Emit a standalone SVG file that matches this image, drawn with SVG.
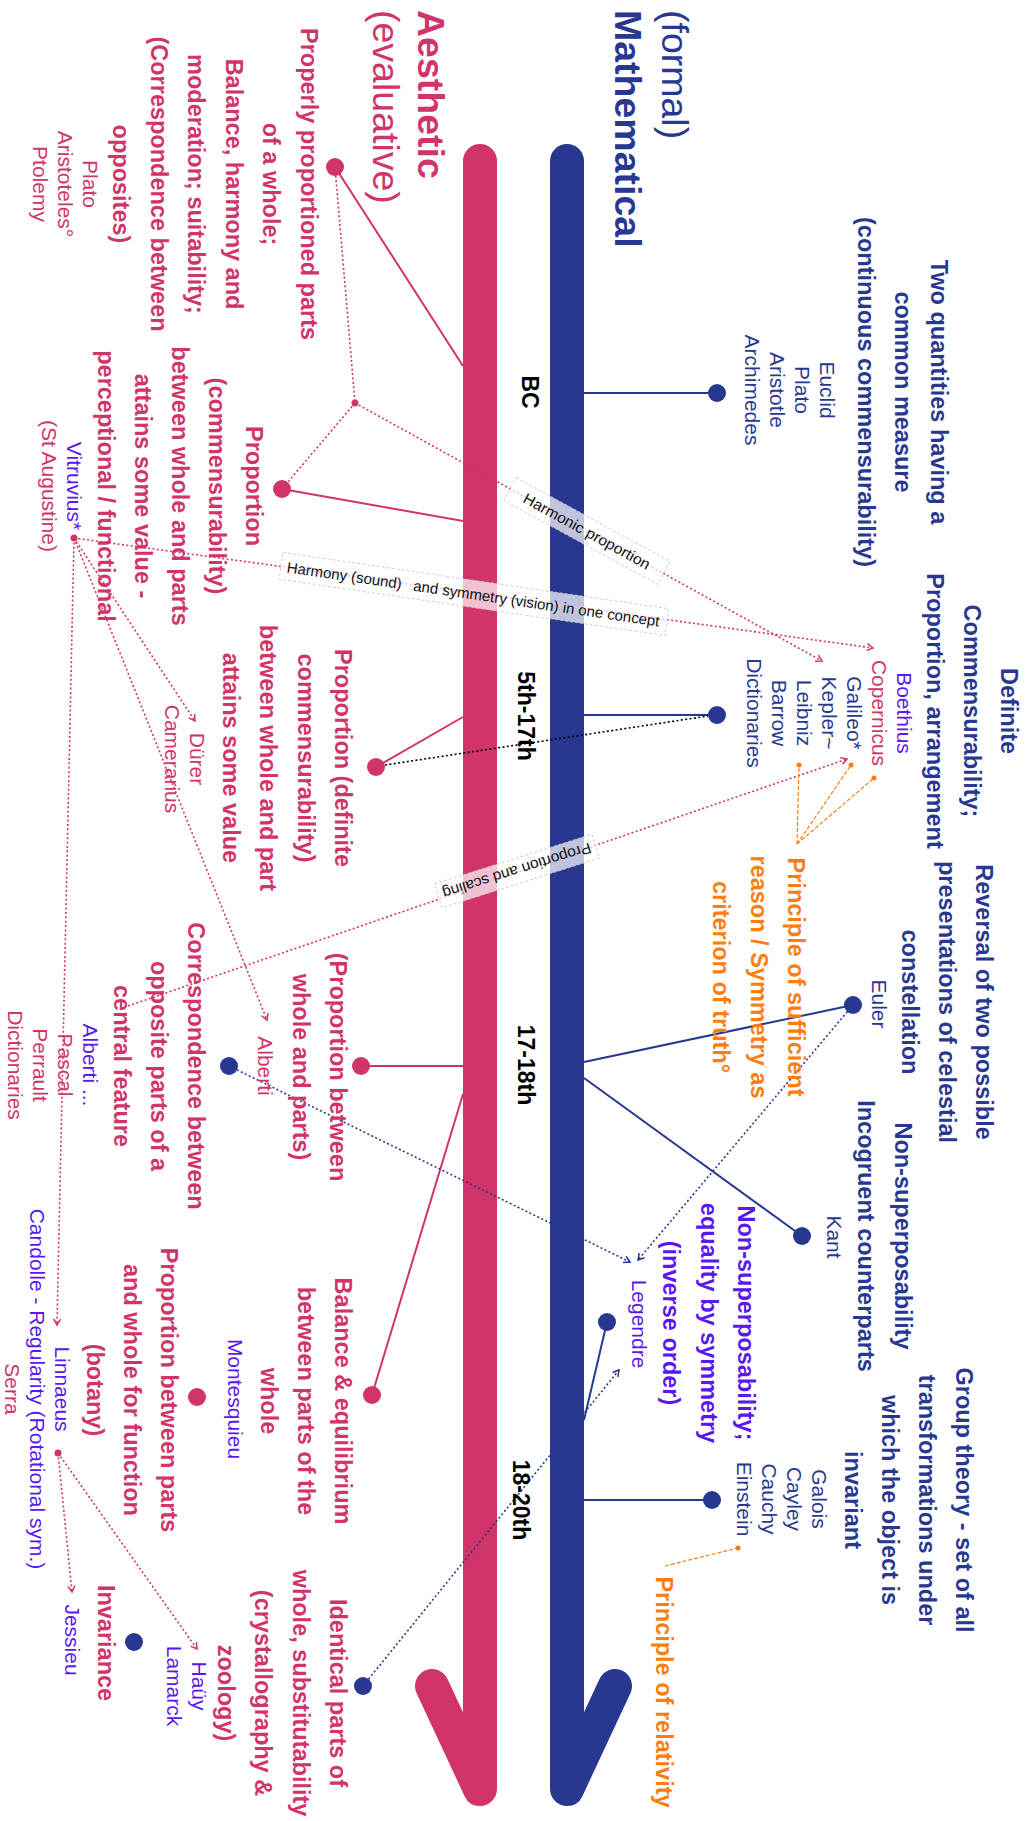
<svg xmlns="http://www.w3.org/2000/svg" width="1033" height="1821" viewBox="0 0 1033 1821">
<defs>
<style>
.t{font-family:"Liberation Sans",Arial,sans-serif}
.b{font-weight:bold;font-size:23.5px}
.n{font-size:21px}
.ttl{font-size:37.5px}
.era{font-weight:bold;font-size:23px;fill:#000}
.pk{fill:#d13469}.bl{fill:#283891}.pu{fill:#5a17f0}.or{fill:#ff7d0f}
.sp{stroke:#d13469;stroke-width:2;fill:none}
.sb{stroke:#283891;stroke-width:2;fill:none}
.dp{stroke:#d13469;stroke-width:1.6;fill:none;stroke-dasharray:2 2.4}
.db{stroke:#283891;stroke-width:1.6;fill:none;stroke-dasharray:2 2.4}
.dk{stroke:#000;stroke-width:1.6;fill:none;stroke-dasharray:2 2.4}
.do{stroke:#ff7d0f;stroke-width:1.2;fill:none;stroke-dasharray:4 2}
.lb rect{fill:#fff;fill-opacity:.7;stroke:#c8c8c8;stroke-width:.8;stroke-dasharray:3 2}
.lb text{font-family:"Liberation Sans",Arial,sans-serif;font-size:15px;fill:#111}
.bar{fill:none;stroke-width:34;stroke-linecap:round;stroke-linejoin:round}
</style>
<marker id="ap" viewBox="0 0 10 10" refX="8" refY="5" markerWidth="10" markerHeight="10" markerUnits="userSpaceOnUse" orient="auto"><path d="M2,1.5 L8,5 L2,8.5" fill="none" stroke="#d13469" stroke-width="1.5"/></marker>
<marker id="ab" viewBox="0 0 10 10" refX="8" refY="5" markerWidth="10" markerHeight="10" markerUnits="userSpaceOnUse" orient="auto"><path d="M2,1.5 L8,5 L2,8.5" fill="none" stroke="#283891" stroke-width="1.5"/></marker>
</defs>
<rect width="1033" height="1821" fill="#fff"/>

<g id="timeline-bars">
<path class="bar" stroke="#d13469" d="M480,161 L480,1789 L432,1686"/>
<path class="bar" stroke="#283891" d="M567,161 L567,1789 L615,1686"/>
</g>

<g id="connectors">
<line class="sp" x1="463" y1="366" x2="335" y2="167"/>
<line class="sp" x1="463" y1="521" x2="282" y2="489"/>
<line class="sp" x1="463" y1="717" x2="376" y2="767"/>
<line class="sp" x1="463" y1="1066" x2="361" y2="1066"/>
<line class="sp" x1="463" y1="1094" x2="372" y2="1395"/>
<line class="sb" x1="584" y1="393" x2="717" y2="393"/>
<line class="sb" x1="584" y1="715" x2="717" y2="715"/>
<line class="sb" x1="584" y1="1062" x2="853" y2="1005"/>
<line class="sb" x1="584" y1="1078" x2="802" y2="1236"/>
<line class="sb" x1="584" y1="1420" x2="607" y2="1322"/>
<line class="sb" x1="584" y1="1500" x2="712" y2="1500"/>

<line class="dp" x1="335" y1="167" x2="355" y2="403"/>
<line class="dp" x1="355" y1="403" x2="282" y2="489"/>
<line class="dp" x1="355" y1="403" x2="822" y2="661" marker-end="url(#ap)"/>
<line class="dp" x1="74" y1="538" x2="873" y2="648" marker-end="url(#ap)"/>
<line class="dp" x1="74" y1="538" x2="195" y2="721" marker-end="url(#ap)"/>
<line class="dp" x1="74" y1="538" x2="267" y2="1020" marker-end="url(#ap)"/>
<line class="dp" x1="74" y1="538" x2="57" y2="1325" marker-end="url(#ap)"/>
<line class="dp" x1="128" y1="1006" x2="847" y2="759" marker-end="url(#ap)"/>
<line class="dp" x1="58" y1="1453" x2="72" y2="1592" marker-end="url(#ap)"/>
<line class="dp" x1="58" y1="1453" x2="197" y2="1649" marker-end="url(#ap)"/>
<line class="dk" x1="385" y1="765" x2="708" y2="716"/>
<line class="db" x1="229" y1="1066" x2="630" y2="1262" marker-end="url(#ab)"/>
<line class="db" x1="853" y1="1005" x2="638" y2="1260" marker-end="url(#ab)"/>
<line class="db" x1="363" y1="1686" x2="619" y2="1370" marker-end="url(#ab)"/>
<line class="do" x1="797" y1="844" x2="799" y2="765"/>
<line class="do" x1="797" y1="844" x2="851" y2="765"/>
<line class="do" x1="797" y1="844" x2="874" y2="778"/>
<line class="do" x1="665" y1="1566" x2="738" y2="1548"/>
<g fill="#ff7d0f">
<circle cx="799" cy="765" r="2.5"/><circle cx="851" cy="765" r="2.5"/><circle cx="874" cy="778" r="2.5"/><circle cx="738" cy="1548" r="2.5"/>
</g>
</g>

<g id="edge-labels">
<g class="lb" id="label-harmonic" transform="translate(587,531) rotate(28.6)">
<rect x="-87.5" y="-13" width="175" height="26"/>
<text x="0" y="5.5" text-anchor="middle" textLength="142" lengthAdjust="spacingAndGlyphs">Harmonic proportion</text>
</g>
<g class="lb" id="label-harmony" transform="translate(474,594) rotate(8.3)">
<rect x="-195" y="-13.5" width="390" height="27"/>
<text x="-189" y="5.5">Harmony (sound)</text>
<text x="-61" y="5.5">and symmetry (vision) in one concept</text>
</g>
<g class="lb" id="label-scaling" transform="translate(517,871) rotate(162.5)">
<rect x="-82.5" y="-12.5" width="165" height="25"/>
<text x="0" y="5.5" text-anchor="middle" textLength="155" lengthAdjust="spacingAndGlyphs">Proportion and scaling</text>
</g>
</g>

<g id="titles">
<text class="t ttl pk" font-weight="bold" transform="translate(418,10) rotate(90)">Aesthetic</text>
<text class="t ttl pk" transform="translate(373,10) rotate(90)">(evaluative)</text>
<text class="t ttl bl" transform="translate(662,10) rotate(90)">(formal)</text>
<text class="t ttl bl" font-weight="bold" transform="translate(615,10) rotate(90)">Mathematical</text>
</g>

<g id="eras" text-anchor="middle">
<text class="t era" transform="translate(522,392) rotate(90)">BC</text>
<text class="t era" transform="translate(518,716) rotate(90)">5th-17th</text>
<text class="t era" transform="translate(518,1065) rotate(90)">17-18th</text>
<text class="t era" transform="translate(513,1500) rotate(90)">18-20th</text>
</g>

<g id="node-a1" text-anchor="middle">
<circle class="pk" cx="335" cy="167" r="9"/>
<text class="t b pk" transform="translate(301,184) rotate(90)"><tspan x="0">Properly proportioned parts</tspan><tspan x="0" dy="37.6">of a whole;</tspan><tspan x="0" dy="37.6">Balance, harmony and</tspan><tspan x="0" dy="37.6">moderation; suitability;</tspan><tspan x="0" dy="37.6">(Correspondence between</tspan><tspan x="0" dy="37.6">opposites)</tspan></text>
<text class="t n pk" transform="translate(83,184) rotate(90)"><tspan x="0">Plato</tspan><tspan x="0" dy="25">Aristoteles°</tspan><tspan x="0" dy="25">Ptolemy</tspan></text>
</g>
<g id="node-junction"><circle class="pk" cx="355" cy="403" r="3.5"/></g>

<g id="node-a2" text-anchor="middle">
<circle class="pk" cx="282" cy="489" r="9"/>
<text class="t b pk" transform="translate(246,486) rotate(90)"><tspan x="0">Proportion</tspan><tspan x="0" dy="37">(commensurability)</tspan><tspan x="0" dy="37">between whole and parts</tspan><tspan x="0" dy="37">attains some value -</tspan><tspan x="0" dy="37">perceptional / functional</tspan></text>
</g>
<g id="node-vitruvius" text-anchor="middle">
<circle class="pk" cx="74" cy="538" r="3.5"/>
<text class="t n" transform="translate(67,486) rotate(90)"><tspan x="0" class="pu">Vitruvius*</tspan><tspan x="0" dy="25.5" class="pk">(St Augustine)</tspan></text>
</g>
<g id="node-durer" text-anchor="middle">
<text class="t n pk" transform="translate(190,759) rotate(90)"><tspan x="0">Dürer</tspan><tspan x="0" dy="25">Camerarius</tspan></text>
</g>
<g id="node-a3" text-anchor="middle">
<circle class="pk" cx="376" cy="767" r="9"/>
<text class="t b pk" transform="translate(335,758) rotate(90)"><tspan x="0">Proportion (definite</tspan><tspan x="0" dy="37.5">commensurability)</tspan><tspan x="0" dy="37.5">between whole and part</tspan><tspan x="0" dy="37.5">attains some value</tspan></text>
</g>
<g id="node-a4" text-anchor="middle">
<circle class="pk" cx="361" cy="1066" r="9"/>
<text class="t b pk" transform="translate(330,1067) rotate(90)"><tspan x="0">(Proportion between</tspan><tspan x="0" dy="37.5">whole and parts)</tspan></text>
<text class="t n pk" transform="translate(258,1066) rotate(90)">Alberti</text>
</g>
<g id="node-a5" text-anchor="middle">
<circle class="bl" cx="229" cy="1066" r="9"/>
<text class="t b pk" transform="translate(188,1066) rotate(90)"><tspan x="0">Correspondence between</tspan><tspan x="0" dy="37">opposite parts of a</tspan><tspan x="0" dy="37">central feature</tspan></text>
<text class="t n" transform="translate(83,1065) rotate(90)"><tspan x="0" class="pu">Alberti ...</tspan><tspan x="0" dy="25" class="pk">Pascal</tspan><tspan x="0" dy="25" class="pk">Perrault</tspan><tspan x="0" dy="25" class="pk">Dictionaries</tspan></text>
</g>
<g id="node-a6" text-anchor="middle">
<circle class="pk" cx="372" cy="1395" r="9"/>
<text class="t b pk" transform="translate(335,1401) rotate(90)"><tspan x="0">Balance &amp; equilibrium</tspan><tspan x="0" dy="37">between parts of the</tspan><tspan x="0" dy="37">whole</tspan></text>
<text class="t n pu" transform="translate(228,1399) rotate(90)">Montesquieu</text>
</g>
<g id="node-a7" text-anchor="middle">
<circle class="pk" cx="197" cy="1397" r="9"/>
<text class="t b pk" transform="translate(161,1390) rotate(90)"><tspan x="0">Proportion between parts</tspan><tspan x="0" dy="37">and whole for function</tspan><tspan x="0" dy="37">(botany)</tspan></text>
<text class="t n" transform="translate(55,1389) rotate(90)"><tspan x="0" class="pu">Linnaeus</tspan><tspan x="0" dy="25" class="pu">Candolle - Regularity (Rotational sym.)</tspan><tspan x="0" dy="25" class="pk">Serra</tspan></text>
<circle class="pk" cx="58" cy="1453" r="3.5"/>
</g>
<g id="node-a8" text-anchor="middle">
<circle class="bl" cx="134" cy="1642" r="9"/>
<text class="t b pk" transform="translate(98,1643) rotate(90)">Invariance</text>
<text class="t n pu" transform="translate(65,1640) rotate(90)">Jessieu</text>
<text class="t n pu" transform="translate(192,1686) rotate(90)"><tspan x="0">Haüy</tspan><tspan x="0" dy="25">Lamarck</tspan></text>
</g>
<g id="node-a9" text-anchor="middle">
<circle class="bl" cx="363" cy="1686" r="9"/>
<text class="t b pk" transform="translate(330,1693) rotate(90)"><tspan x="0">Identical parts of</tspan><tspan x="0" dy="37.5">whole, substitutability</tspan><tspan x="0" dy="37.5">(crystallography &amp;</tspan><tspan x="0" dy="37.5">zoology)</tspan></text>
</g>

<g id="node-m1" text-anchor="middle">
<circle class="bl" cx="717" cy="393" r="9"/>
<text class="t b bl" transform="translate(931,392) rotate(90)"><tspan x="0">Two quantities having a</tspan><tspan x="0" dy="36.5">common measure</tspan><tspan x="0" dy="36.5">(continuous commensurability)</tspan></text>
<text class="t n bl" transform="translate(820,390) rotate(90)"><tspan x="0">Euclid</tspan><tspan x="0" dy="25">Plato</tspan><tspan x="0" dy="25">Aristotle</tspan><tspan x="0" dy="25">Archimedes</tspan></text>
</g>
<g id="node-m2" text-anchor="middle">
<circle class="bl" cx="717" cy="715" r="9"/>
<text class="t b bl" transform="translate(1001,711) rotate(90)"><tspan x="0">Definite</tspan><tspan x="0" dy="37">Commensurability;</tspan><tspan x="0" dy="37">Proportion, arrangement</tspan></text>
<text class="t n bl" transform="translate(897,713) rotate(90)"><tspan x="0" class="pu">Boethius</tspan><tspan x="0" dy="25" class="pk">Copernicus</tspan><tspan x="0" dy="25">Galileo*</tspan><tspan x="0" dy="25">Kepler~</tspan><tspan x="0" dy="25">Leibniz</tspan><tspan x="0" dy="25">Barrow</tspan><tspan x="0" dy="25">Dictionaries</tspan></text>
</g>
<g id="node-sufficient-reason" text-anchor="middle">
<text class="t b or" transform="translate(788,977) rotate(90)"><tspan x="0">Principle of sufficient</tspan><tspan x="0" dy="37.5">reason / Symmetry as</tspan><tspan x="0" dy="37.5">criterion of truth°</tspan></text>
</g>
<g id="node-m3" text-anchor="middle">
<circle class="bl" cx="853" cy="1005" r="9"/>
<text class="t b bl" transform="translate(976,1002) rotate(90)"><tspan x="0">Reversal of two possible</tspan><tspan x="0" dy="37">presentations of celestial</tspan><tspan x="0" dy="37">constellation</tspan></text>
<text class="t n bl" transform="translate(872,1004) rotate(90)">Euler</text>
</g>
<g id="node-m4" text-anchor="middle">
<circle class="bl" cx="802" cy="1236" r="9"/>
<text class="t b bl" transform="translate(895,1236) rotate(90)"><tspan x="0">Non-superposability</tspan><tspan x="0" dy="37">Incogruent counterparts</tspan></text>
<text class="t n bl" transform="translate(827,1237) rotate(90)">Kant</text>
</g>
<g id="node-m5" text-anchor="middle">
<circle class="bl" cx="607" cy="1322" r="9"/>
<text class="t b pu" transform="translate(738,1323) rotate(90)"><tspan x="0">Non-superposability;</tspan><tspan x="0" dy="37.5">equality by symmetry</tspan><tspan x="0" dy="37.5">(inverse order)</tspan></text>
<text class="t n pu" transform="translate(632,1324) rotate(90)">Legendre</text>
</g>
<g id="node-m6" text-anchor="middle">
<circle class="bl" cx="712" cy="1500" r="9"/>
<text class="t b bl" transform="translate(956,1500) rotate(90)"><tspan x="0">Group theory - set of all</tspan><tspan x="0" dy="37">transformations under</tspan><tspan x="0" dy="37">which the object is</tspan><tspan x="0" dy="37">invariant</tspan></text>
<text class="t n bl" transform="translate(812,1499) rotate(90)"><tspan x="0">Galois</tspan><tspan x="0" dy="25">Cayley</tspan><tspan x="0" dy="25">Cauchy</tspan><tspan x="0" dy="25">Einstein</tspan></text>
</g>
<g id="node-relativity" text-anchor="middle">
<text class="t b or" transform="translate(656,1692) rotate(90)">Principle of relativity</text>
</g>
</svg>
